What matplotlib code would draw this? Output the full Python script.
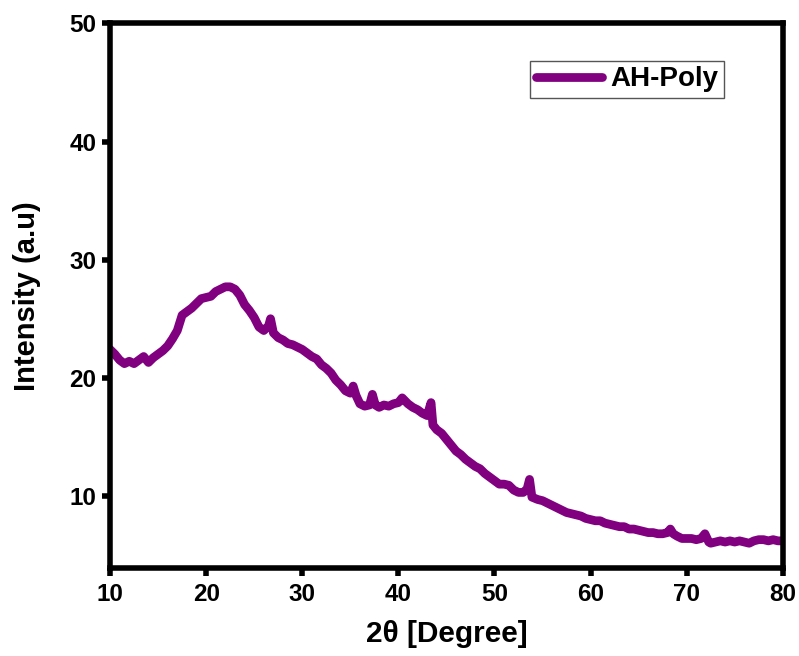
import matplotlib
matplotlib.use("Agg")
from matplotlib import pyplot as plt

# 2theta positions and intensity
two_theta = [10.0, 10.5, 11.0, 11.5, 12.0, 12.5, 13.0, 13.5, 14.0, 14.5,
             15.0, 15.5, 16.0, 16.5, 17.0, 17.5, 18.0, 18.5, 19.0, 19.5,
             20.0, 20.5, 21.0, 21.5, 22.0, 22.5, 23.0, 23.5, 24.0, 24.5,
             25.0, 25.5, 26.0, 26.5, 26.7, 27.0, 27.5, 28.0, 28.5, 29.0,
             29.5, 30.0, 30.5, 31.0, 31.5, 32.0, 32.5, 33.0, 33.5, 34.0,
             34.5, 35.0, 35.3, 35.6, 36.0, 36.5, 37.0, 37.3, 37.6, 38.0,
             38.5, 39.0, 39.5, 40.0, 40.4, 41.0, 41.5, 42.0, 42.5, 43.0,
             43.4, 43.6, 44.0, 44.5, 45.0, 45.5, 46.0, 46.5, 47.0, 47.5,
             48.0, 48.5, 49.0, 49.5, 50.0, 50.5, 51.0, 51.5, 52.0, 52.5,
             53.0, 53.4, 53.65, 53.9, 54.5, 55.0, 55.5, 56.0, 56.5, 57.0,
             57.5, 58.0, 58.5, 59.0, 59.5, 60.0, 60.5, 61.0, 61.5, 62.0,
             62.5, 63.0, 63.5, 64.0, 64.5, 65.0, 65.5, 66.0, 66.5, 67.0,
             67.5, 68.0, 68.3, 68.6, 69.0, 69.5, 70.0, 70.5, 71.0, 71.5,
             71.9, 72.3, 72.5, 73.0, 73.5, 74.0, 74.5, 75.0, 75.5, 76.0,
             76.5, 77.0, 77.5, 78.0, 78.5, 79.0, 79.5, 80.0]
intensity = [22.4, 22.0, 21.5, 21.2, 21.4, 21.2, 21.5, 21.8, 21.3, 21.7,
             22.0, 22.3, 22.7, 23.3, 24.0, 25.3, 25.6, 25.9, 26.3, 26.7,
             26.8, 26.9, 27.3, 27.5, 27.7, 27.7, 27.5, 27.0, 26.2, 25.7,
             25.1, 24.3, 24.0, 24.4, 25.0, 23.8, 23.4, 23.2, 22.9, 22.8,
             22.6, 22.4, 22.1, 21.8, 21.6, 21.1, 20.8, 20.4, 19.8, 19.4,
             18.9, 18.7, 19.3, 18.5, 17.8, 17.6, 17.7, 18.6, 17.7, 17.5,
             17.7, 17.6, 17.8, 17.9, 18.3, 17.8, 17.5, 17.3, 17.0, 16.8,
             17.9, 16.0, 15.6, 15.3, 14.8, 14.3, 13.8, 13.5, 13.1, 12.8,
             12.5, 12.3, 11.9, 11.6, 11.3, 11.0, 11.0, 10.9, 10.5, 10.3,
             10.3, 10.6, 11.4, 9.9, 9.7, 9.6, 9.4, 9.2, 9.0, 8.8,
             8.6, 8.5, 8.4, 8.3, 8.1, 8.0, 7.9, 7.9, 7.7, 7.6,
             7.5, 7.4, 7.4, 7.2, 7.2, 7.1, 7.0, 6.9, 6.9, 6.8,
             6.8, 6.9, 7.2, 6.8, 6.6, 6.4, 6.4, 6.4, 6.3, 6.4,
             6.8, 6.1, 6.0, 6.1, 6.2, 6.1, 6.2, 6.1, 6.2, 6.1,
             6.0, 6.2, 6.3, 6.3, 6.2, 6.3, 6.2, 6.2]
x_ticks = [10, 20, 30, 40, 50, 60, 70, 80]
y_ticks = [10, 20, 30, 40, 50]

plt.rcParams['font.family'] = ['Liberation Sans', 'DejaVu Sans']
plt.rcParams['font.weight'] = 'bold'

fig = plt.figure(figsize=(7.99, 6.56), dpi=100)
ax = fig.add_axes([0.1377, 0.1341, 0.842, 0.8303])

ax.plot(two_theta, intensity, color='#800080', lw=6.3,
        solid_capstyle='round', solid_joinstyle='round', label='AH-Poly')

ax.set_xlim(10, 80)
ax.set_ylim(3.9, 50)
ax.set_xticks(x_ticks)
ax.set_yticks(y_ticks)

for sp in ax.spines.values():
    sp.set_linewidth(4)
ax.tick_params(axis='both', direction='out', length=6, width=4,
               labelsize=17.5, top=False, right=False)
ax.tick_params(axis='x', pad=5)
ax.tick_params(axis='y', pad=4)
for lab in ax.get_xticklabels() + ax.get_yticklabels():
    lab.set_fontweight('bold')

ax.set_xlabel('2θ [Degree]', fontsize=21.5, fontweight='bold', labelpad=10)
ax.set_ylabel('Intensity (a.u)', fontsize=21, fontweight='bold', labelpad=20)

leg = ax.legend(loc='upper right', bbox_to_anchor=(0.913, 0.931),
                fontsize=20, fancybox=False, framealpha=1,
                handlelength=2.4, handletextpad=0.3, borderpad=0.2,
                borderaxespad=0)
leg.get_frame().set_edgecolor('#555555')
leg.get_frame().set_linewidth(1)
for t in leg.get_texts():
    t.set_fontweight('bold')

fig.savefig('out.png', dpi=100)
